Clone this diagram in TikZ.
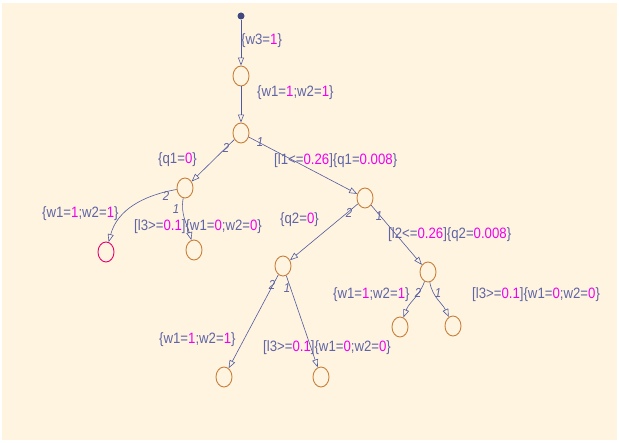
\documentclass[tikz,border=0pt]{standalone}
\usepackage{fontspec}
\setmainfont{Liberation Sans}
\newfontfamily\chartfont[FakeStretch=0.88]{Liberation Sans}
\usepackage{tikz}
\usetikzlibrary{shapes.geometric, arrows.meta, positioning}
\usepackage{xcolor}
\definecolor{chartbg}{RGB}{255,244,224}
\definecolor{stateorange}{RGB}{200,128,60}
\definecolor{endmagenta}{RGB}{232,0,110}
\definecolor{transblue}{RGB}{80,90,160}
\definecolor{labelblue}{RGB}{95,100,165}
\definecolor{valmagenta}{RGB}{240,0,240}
\newcommand{\val}[1]{\textcolor{valmagenta}{#1}}

\begin{document}
\begin{tikzpicture}[
    x=1pt, y=-1pt,
    state/.style={ellipse, draw=stateorange, line width=0.9pt, minimum width=16pt, minimum height=20pt, inner sep=0pt},
    endstate/.style={state, draw=endmagenta},
    initdot/.style={circle, fill=transblue!80!black, minimum size=7pt, inner sep=0pt},
    trans/.style={-{Triangle[open, length=8pt, width=6pt]}, color=transblue, line width=0.6pt},
    act/.style={anchor=west, inner sep=0pt, text=labelblue, font=\chartfont\fontsize{15}{17}\selectfont},
    tnum/.style={inner sep=0pt, text=labelblue, font=\chartfont\fontsize{13}{15}\selectfont\itshape}
]
    % chart area
    \fill[white] (0,0) rectangle (619,443);
    \fill[chartbg] (2,3) rectangle (617,440);

    % states
    \node (init) [initdot] at (241,16) {};
    \node (a) [state] at (241,76) {};
    \node (b) [state] at (241,133) {};
    \node (c) [state] at (185,188) {};
    \node (d) [endstate] at (106,252) {};
    \node (e) [state] at (194,250) {};
    \node (f) [state] at (365,198) {};
    \node (g) [state] at (283,266) {};
    \node (h) [state] at (428,272) {};
    \node (i) [state] at (400,327) {};
    \node (j) [state] at (453,326) {};
    \node (k) [state] at (224,377) {};
    \node (l) [state] at (321,377) {};

    % transitions
    \draw[trans] (init) -- (a);
    \draw[trans] (a) -- (b);
    \draw[trans] (b) -- (c);
    \draw[trans] (b) -- (f);
    \draw[trans] (c) to[out=190, in=75] (d);
    \draw[trans] (c) to[out=-100, in=105] (e);
    \draw[trans] (f) -- (g);
    \draw[trans] (f) -- (h);
    \draw[trans] (g) -- (k);
    \draw[trans] (g) -- (l);
    \draw[trans] (h) to[out=-110, in=70] (i);
    \draw[trans] (h) to[out=-80, in=115] (j);

    % execution order
    \node (b2) [tnum] at (226,148) {2};
    \node (b1) [tnum] at (260,142) {1};
    \node (c2) [tnum] at (166,196) {2};
    \node (c1) [tnum] at (176,209) {1};
    \node (f2) [tnum] at (349,213) {2};
    \node (f1) [tnum] at (379,216) {1};
    \node (g2) [tnum] at (272,285) {2};
    \node (g1) [tnum] at (287,288) {1};
    \node (h2) [tnum] at (418,293) {2};
    \node (h1) [tnum] at (438,293) {1};

    % actions
    \node (lw3) [act] at (241,41) {\{w3=\val{1}\}};
    \node (lab) [act] at (257,93) {\{w1=\val{1};w2=\val{1}\}};
    \node (lq1) [act] at (158,160) {\{q1=\val{0}\}};
    \node (ll1) [act] at (274,161) {[l1<=\val{0.26}]\{q1=\val{0.008}\}};
    \node (lcd) [act] at (42,214) {\{w1=\val{1};w2=\val{1}\}};
    \node (lce) [act] at (134,227) {[l3>=\val{0.1}]\{w1=\val{0};w2=\val{0}\}};
    \node (lq2) [act] at (280,220) {\{q2=\val{0}\}};
    \node (ll2) [act] at (388,235) {[l2<=\val{0.26}]\{q2=\val{0.008}\}};
    \node (lhi) [act] at (333,295) {\{w1=\val{1};w2=\val{1}\}};
    \node (lhj) [act] at (472,295) {[l3>=\val{0.1}]\{w1=\val{0};w2=\val{0}\}};
    \node (lgk) [act] at (159,340) {\{w1=\val{1};w2=\val{1}\}};
    \node (lgl) [act] at (263,348) {[l3>=\val{0.1}]\{w1=\val{0};w2=\val{0}\}};
\end{tikzpicture}
\end{document}
